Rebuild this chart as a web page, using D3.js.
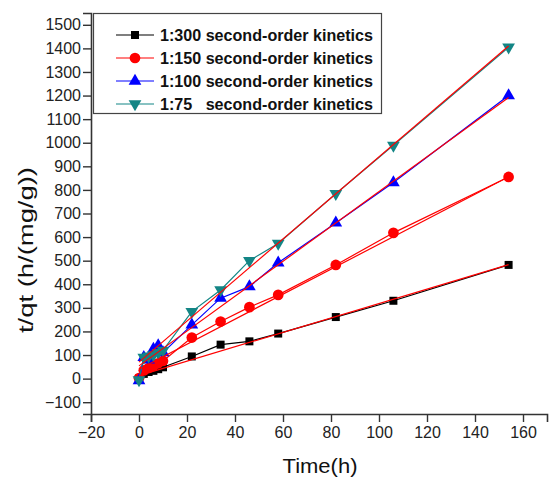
<!DOCTYPE html>
<html>
<head>
<meta charset="utf-8">
<script src="https://cdn.jsdelivr.net/npm/d3@7"></script>
<style>
  body { margin: 0; background: #fff; }
</style>
</head>
<body>
<div id="chart"></div>
<script>
// Time points (h)
var times = [0, 2, 4, 6, 8, 10, 22, 34, 46, 58, 82, 106, 154];

// t/qt values
var r300 = [0, 20, 28, 33, 40, 48, 94, 144, 158, 191, 261, 330, 482];
var r150 = [2, 35, 45, 55, 65, 75, 174, 242, 303, 355, 482, 618, 855];
var r100 = [-8, 90, 80, 125, 140, 110, 228, 341, 390, 491, 660, 831, 1200];
var r75 = [-5, 90, 95, 100, 110, 120, 284, 376, 500, 573, 784, 989, 1405];

// second-order fit lines: [t start, value start, t end, value end]
var fit300 = [0, 13, 154, 483];
var fit150 = [0, 40, 154, 856];
var fit100 = [0, 54, 154, 1192];
var fit75 = [0, 70, 154, 1410];

var labels = ["1:300 second-order kinetics", "1:150 second-order kinetics",
              "1:100 second-order kinetics", "1:75\u00a0\u00a0\u00a0second-order kinetics"];
var colors = ["#000000", "#ff0000", "#0000ff", "#138585"];
var shapes = ["square", "circle", "triangle", "down"];

var xTicks = [-20, 0, 20, 40, 60, 80, 100, 120, 140, 160];
var yTicks = [-100, 0, 100, 200, 300, 400, 500, 600, 700, 800, 900, 1000, 1100, 1200, 1300, 1400, 1500];

var W = 549, H = 478;
var margin = { top: 13, right: 2, bottom: 64, left: 91 };
var width = W - margin.left - margin.right;
var height = H - margin.top - margin.bottom;
var font = "Liberation Sans";

var svg = d3.select("#chart").append("svg")
    .attr("width", W)
    .attr("height", H)
    .attr("font-family", font);

var g = svg.append("g")
    .attr("transform", "translate(" + margin.left + "," + margin.top + ")");

var x = d3.scaleLinear().domain([-20, 170]).range([0, width]);
var y = d3.scaleLinear().domain([-150, 1550]).range([height, 0]);

var axisColor = "#333";

// X axis
var xAxis = g.append("g")
    .attr("transform", "translate(0," + height + ")");
xAxis.call(d3.axisBottom(x).tickValues(d3.range(-10, 171, 20)).tickSize(4).tickFormat(""));
xAxis.call(d3.axisBottom(x).tickValues(xTicks).tickSize(8).tickPadding(5).tickFormat(d3.format("d")));
xAxis.attr("font-family", font);
xAxis.selectAll(".domain").attr("stroke", axisColor).attr("stroke-width", 1.6);
xAxis.selectAll("line").attr("stroke", axisColor).attr("stroke-width", 1.4);
xAxis.selectAll("text").attr("font-size", "16px").attr("fill", "#222");

// Y axis
var yAxis = g.append("g");
yAxis.call(d3.axisLeft(y).tickValues(d3.range(-150, 1551, 100)).tickSize(4).tickFormat(""));
yAxis.call(d3.axisLeft(y).tickValues(yTicks).tickSize(8).tickPadding(2).tickFormat(d3.format("d")));
yAxis.attr("font-family", font);
yAxis.selectAll(".domain").attr("stroke", axisColor).attr("stroke-width", 1.6);
yAxis.selectAll("line").attr("stroke", axisColor).attr("stroke-width", 1.4);
yAxis.selectAll("text").attr("font-size", "16px").attr("fill", "#222");

// marker drawing
function marker(sel, shape, color) {
    var sym = { square: d3.symbolSquare, circle: d3.symbolCircle, triangle: d3.symbolTriangle, down: d3.symbolTriangle }[shape];
    var area = { square: 64, circle: 90, triangle: 70, down: 70 }[shape];
    sel.append("path")
        .attr("d", d3.symbol().type(sym).size(area))
        .attr("transform", shape === "down" ? "rotate(180)" : null)
        .attr("fill", color);
}

var series = [r300, r150, r100, r75];
var fits = [fit300, fit150, fit100, fit75];

var line = d3.line()
    .x(function(d) { return x(d[0]); })
    .y(function(d) { return y(d[1]); });

// data lines and markers
series.forEach(function(vals, i) {
    var pts = times.map(function(t, j) { return [t, vals[j]]; });
    g.append("path")
        .attr("d", line(pts))
        .attr("fill", "none")
        .attr("stroke", colors[i])
        .attr("stroke-width", 1.2);
    g.selectAll(".m" + i)
        .data(pts)
        .enter()
        .append("g")
        .attr("class", "m" + i)
        .attr("transform", function(d) { return "translate(" + x(d[0]) + "," + y(d[1]) + ")"; })
        .each(function() { marker(d3.select(this), shapes[i], colors[i]); });
});

// fit lines on top
fits.forEach(function(f) {
    g.append("line")
        .attr("x1", x(f[0]))
        .attr("y1", y(f[1]))
        .attr("x2", x(f[2]))
        .attr("y2", y(f[3]))
        .attr("stroke", "#ff0000")
        .attr("stroke-width", 1.2);
});

// Legend
var legend = svg.append("g");
legend.append("rect")
    .attr("x", 93.5)
    .attr("y", 13.5)
    .attr("width", 288)
    .attr("height", 100)
    .attr("fill", "#fff")
    .attr("stroke", "#444")
    .attr("stroke-width", 1.2);

labels.forEach(function(lab, i) {
    var ly = 35 + i * 23;
    var item = legend.append("g").attr("transform", "translate(0," + ly + ")");
    item.append("line")
        .attr("x1", 116).attr("x2", 154)
        .attr("y1", 0).attr("y2", 0)
        .attr("stroke", colors[i])
        .attr("stroke-width", 1.2);
    var mk = item.append("g").attr("transform", "translate(135,0)");
    marker(mk, shapes[i], colors[i]);
    item.append("text")
        .attr("x", 160)
        .attr("y", 6)
        .attr("font-size", "16px")
        .attr("font-weight", "bold")
        .attr("textLength", 213)
        .attr("lengthAdjust", "spacingAndGlyphs")
        .attr("fill", "#111")
        .text(lab);
});

// Axis titles
svg.append("text")
    .attr("x", 320)
    .attr("y", 473)
    .attr("text-anchor", "middle")
    .attr("font-size", "21px")
    .attr("textLength", 75)
    .attr("lengthAdjust", "spacingAndGlyphs")
    .attr("fill", "#111")
    .text("Time(h)");

svg.append("text")
    .attr("transform", "translate(33,250) rotate(-90)")
    .attr("text-anchor", "middle")
    .attr("font-size", "21px")
    .attr("textLength", 166)
    .attr("lengthAdjust", "spacingAndGlyphs")
    .attr("fill", "#111")
    .text("t/qt (h/(mg/g))");
</script>
</body>
</html>
